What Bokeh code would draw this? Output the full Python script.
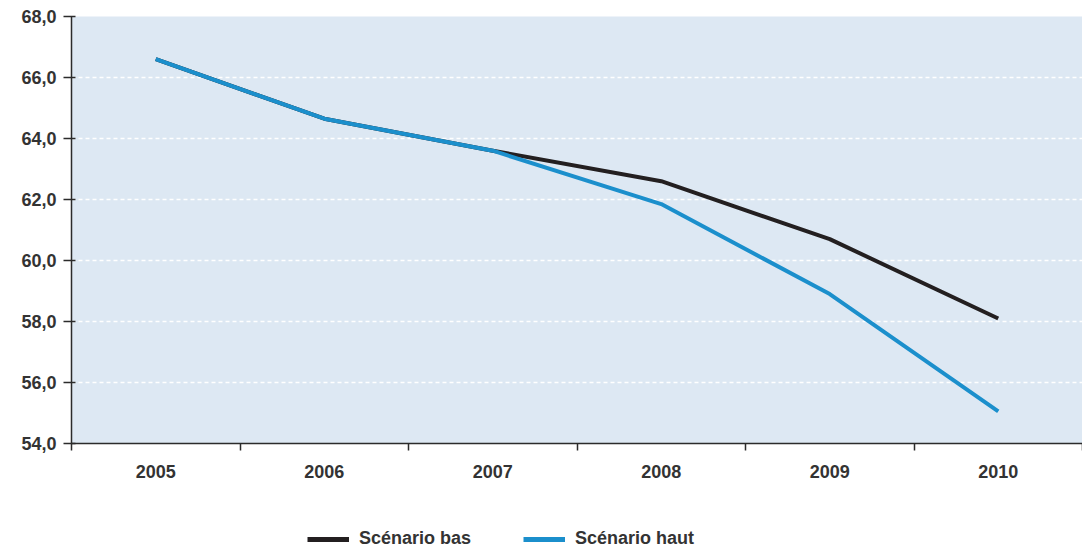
from bokeh.plotting import figure
from bokeh.models import (FixedTicker, Legend, LegendItem, Range1d, LinearAxis)
from bokeh.layouts import column
from bokeh.embed import file_html
from bokeh.resources import INLINE

years = ["2005", "2006", "2007", "2008", "2009", "2010"]
scenario_bas = [66.6, 64.65, 63.6, 62.6, 60.7, 58.1]
scenario_haut = [66.6, 64.65, 63.6, 61.85, 58.9, 55.05]
y_ticks = [54, 56, 58, 60, 62, 64, 66, 68]
series_labels = ["Scénario bas", "Scénario haut"]
series_colors = ["#231f20", "#1b8fcc"]

xs = [i + 0.5 for i in range(len(years))]

FONT = "Liberation Sans"
AXIS_COLOR = "#2b2b2b"
TEXT_COLOR = "#333333"

p = figure(width=1082, height=480, output_backend="svg", toolbar_location=None,
           x_range=Range1d(0, len(years)), y_range=Range1d(54, 68),
           min_border_left=71, min_border_right=0, min_border_top=16,
           min_border_bottom=37, x_axis_location=None, y_axis_location=None)

p.background_fill_color = "#dde8f3"
p.border_fill_color = "white"
p.outline_line_color = None

# y axis
yax = LinearAxis(ticker=FixedTicker(ticks=y_ticks, minor_ticks=[]))
yax.major_label_overrides = {t: f"{t},0" for t in y_ticks}
yax.major_tick_out = 8
yax.major_tick_in = 4
yax.minor_tick_out = 0
yax.minor_tick_in = 0
yax.axis_line_color = AXIS_COLOR
yax.axis_line_width = 1.5
yax.major_tick_line_color = AXIS_COLOR
yax.major_tick_line_width = 1.5
yax.major_label_standoff = 7
yax.major_label_text_font = FONT
yax.major_label_text_font_style = "bold"
yax.major_label_text_font_size = "18px"
yax.major_label_text_color = TEXT_COLOR
p.add_layout(yax, "left")

# x axis: labels at category centres, ticks at category boundaries
xax = LinearAxis(ticker=FixedTicker(ticks=xs, minor_ticks=list(range(len(years) + 1))))
xax.major_label_overrides = {x: y for x, y in zip(xs, years)}
xax.major_tick_out = 0
xax.major_tick_in = 0
xax.minor_tick_out = 7
xax.minor_tick_in = 0
xax.minor_tick_line_color = AXIS_COLOR
xax.minor_tick_line_width = 1.5
xax.axis_line_color = AXIS_COLOR
xax.axis_line_width = 1.5
xax.major_label_standoff = 14
xax.major_label_text_font = FONT
xax.major_label_text_font_style = "bold"
xax.major_label_text_font_size = "18px"
xax.major_label_text_color = TEXT_COLOR
p.add_layout(xax, "below")

# grid
p.xgrid.visible = False
p.ygrid.ticker = FixedTicker(ticks=y_ticks)
p.ygrid.grid_line_color = "white"
p.ygrid.grid_line_dash = "4 3"
p.ygrid.grid_line_width = 1.5

p.line(xs, scenario_bas, line_color=series_colors[0], line_width=4, line_join="round")
p.line(xs, scenario_haut, line_color=series_colors[1], line_width=4, line_join="round")

# legend strip below the chart
lg = figure(width=1082, height=69, output_backend="svg", toolbar_location=None,
            x_range=Range1d(0, 1), y_range=Range1d(0, 1),
            min_border_left=0, min_border_right=0, min_border_top=0, min_border_bottom=0,
            x_axis_location=None, y_axis_location=None)
lg.outline_line_color = None
lg.background_fill_color = "white"
lg.border_fill_color = "white"
lg.xgrid.visible = False
lg.ygrid.visible = False
items = []
for lab, col in zip(series_labels, series_colors):
    # proxy renderers placed outside the visible range, only used for the legend keys
    r = lg.line([-5, -4], [-5, -4], line_color=col, line_width=5)
    items.append(LegendItem(label=lab, renderers=[r]))
legend = Legend(items=items, orientation="horizontal", location=(236, 0))
legend.border_line_color = None
legend.background_fill_alpha = 0
legend.padding = 0
legend.margin = 0
legend.spacing = 52
legend.glyph_width = 42
legend.label_standoff = 10
legend.label_text_font = FONT
legend.label_text_font_style = "bold"
legend.label_text_font_size = "18px"
legend.label_text_color = TEXT_COLOR
lg.add_layout(legend, "center")

layout = column(p, lg, spacing=0)
open("out.html", "w").write(file_html(layout, INLINE))
